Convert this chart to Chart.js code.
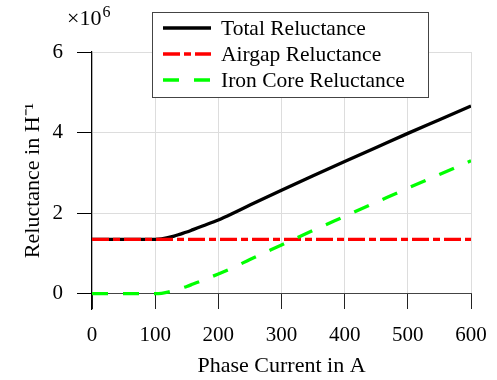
<!DOCTYPE html>
<html>
<head>
<meta charset="utf-8">
<script src="https://cdn.jsdelivr.net/npm/chart.js@4"></script>
<style>
  html, body { margin: 0; padding: 0; background: #fff; }
  #wrap { width: 497px; height: 380px; }
</style>
</head>
<body>
<div id="wrap"><canvas id="reluctanceChart" width="497" height="380"></canvas></div>
<script>
// values in 10^6 1/H
const current = [0, 50, 100, 110, 120, 130, 140, 150, 160, 175, 200, 225, 250, 300, 350, 400, 450, 500, 550, 600];
const totalReluctance = [1.35, 1.35, 1.35, 1.36, 1.39, 1.43, 1.48, 1.53, 1.59, 1.68, 1.83, 2.01, 2.20, 2.57, 2.93, 3.28, 3.63, 3.98, 4.32, 4.66];
const airgapReluctance = [1.35, 1.35, 1.35, 1.35, 1.35, 1.35, 1.35, 1.35, 1.35, 1.35, 1.35, 1.35, 1.35, 1.35, 1.35, 1.35, 1.35, 1.35, 1.35, 1.35];
const ironReluctance = [0, 0, 0, 0.01, 0.04, 0.08, 0.13, 0.18, 0.24, 0.33, 0.49, 0.66, 0.85, 1.21, 1.57, 1.92, 2.27, 2.62, 2.96, 3.30];
const seriesNames = ['Total Reluctance', 'Airgap Reluctance', 'Iron Core Reluctance'];
const xTicks = [0, 100, 200, 300, 400, 500, 600];
const yTicks = [0, 2, 4, 6];

const FONT = 'Liberation Serif, Times New Roman, serif';

function toPoints(ys) {
    return current.map((c, i) => ({ x: c, y: ys[i] }));
}

// boxed legend sitting over the top of the plot
const boxLegend = {
    id: 'boxLegend',
    afterDraw(chart) {
        const ctx = chart.ctx;
        const bx = 152.5, by = 12.5, bw = 276, bh = 85;
        ctx.save();
        ctx.fillStyle = '#fff';
        ctx.fillRect(bx, by, bw, bh);
        ctx.strokeStyle = '#444';
        ctx.lineWidth = 1;
        ctx.setLineDash([]);
        ctx.strokeRect(bx, by, bw, bh);
        chart.data.datasets.forEach((ds, i) => {
            const y = 28 + i * 26;
            ctx.beginPath();
            ctx.setLineDash(ds.borderDash || []);
            ctx.strokeStyle = ds.borderColor;
            ctx.lineWidth = ds.borderWidth;
            ctx.moveTo(163, y);
            ctx.lineTo(211, y);
            ctx.stroke();
            ctx.setLineDash([]);
            ctx.fillStyle = '#000';
            ctx.font = '21.5px ' + FONT;
            ctx.textBaseline = 'middle';
            ctx.textAlign = 'left';
            ctx.fillText(ds.label, 221, y + 1);
        });
        ctx.restore();
    }
};

// "x10^6" multiplier above the y axis
const yMultiplier = {
    id: 'yMultiplier',
    afterDraw(chart) {
        const ctx = chart.ctx;
        ctx.save();
        ctx.fillStyle = '#000';
        ctx.textBaseline = 'alphabetic';
        ctx.textAlign = 'left';
        ctx.font = '22px ' + FONT;
        ctx.fillText('\u00d710', 67, 25);
        const w = ctx.measureText('\u00d710').width;
        ctx.font = '16px ' + FONT;
        ctx.fillText('6', 67 + w + 1, 17);
        ctx.restore();
    }
};

function initChart() {
    const ctx = document.getElementById('reluctanceChart');
    new Chart(ctx, {
        type: 'line',
        data: {
            datasets: [{
                label: seriesNames[0],
                data: toPoints(totalReluctance),
                borderColor: '#000000',
                borderWidth: 3.3,
                order: 3
            }, {
                label: seriesNames[1],
                data: toPoints(airgapReluctance),
                borderColor: '#ff0000',
                borderWidth: 3.3,
                borderDash: [17, 4, 7, 4],
                order: 2
            }, {
                label: seriesNames[2],
                data: toPoints(ironReluctance),
                borderColor: '#00ff00',
                borderWidth: 3.3,
                borderDash: [16, 15],
                order: 1
            }]
        },
        options: {
            responsive: false,
            animation: false,
            events: [],
            layout: {
                padding: { left: 0, right: 26, top: 52, bottom: 71 }
            },
            elements: {
                point: { radius: 0 },
                line: { cubicInterpolationMode: 'monotone', borderCapStyle: 'butt' }
            },
            scales: {
                x: {
                    type: 'linear',
                    position: { y: 0 },
                    min: 0,
                    max: 600,
                    afterBuildTicks: (scale) => { scale.ticks = xTicks.map(v => ({ value: v })); },
                    // keep the last label from shrinking the plot width
                    afterFit: (scale) => { scale.paddingLeft = 0; scale.paddingRight = 0; },
                    grid: {
                        color: '#dddddd',
                        tickColor: '#222',
                        tickLength: 15,
                        lineWidth: 1
                    },
                    border: { color: '#444', width: 1 },
                    ticks: {
                        color: '#000',
                        font: { family: FONT, size: 21 },
                        padding: 14,
                        maxRotation: 0
                    },
                    title: {
                        display: true,
                        text: 'Phase Current in A',
                        color: '#000',
                        font: { family: FONT, size: 22 },
                        padding: { top: -9, bottom: 0 }
                    }
                },
                y: {
                    type: 'linear',
                    min: -0.38,
                    max: 6,
                    afterBuildTicks: (scale) => { scale.ticks = yTicks.map(v => ({ value: v })); },
                    afterFit: (scale) => { scale.width = 92; },
                    grid: {
                        color: '#dddddd',
                        tickColor: '#000',
                        tickLength: 15,
                        lineWidth: 1
                    },
                    border: { color: '#000', width: 1.2 },
                    ticks: {
                        color: '#000',
                        font: { family: FONT, size: 21 },
                        padding: 14
                    },
                    title: {
                        display: true,
                        text: 'Reluctance in H\u207b\u00b9',
                        color: '#000',
                        font: { family: FONT, size: 22 },
                        padding: { top: 20, bottom: 0 }
                    }
                }
            },
            plugins: {
                legend: { display: false },
                tooltip: { enabled: false }
            }
        },
        plugins: [boxLegend, yMultiplier]
    });
}

document.addEventListener('DOMContentLoaded', initChart);
</script>
</body>
</html>
